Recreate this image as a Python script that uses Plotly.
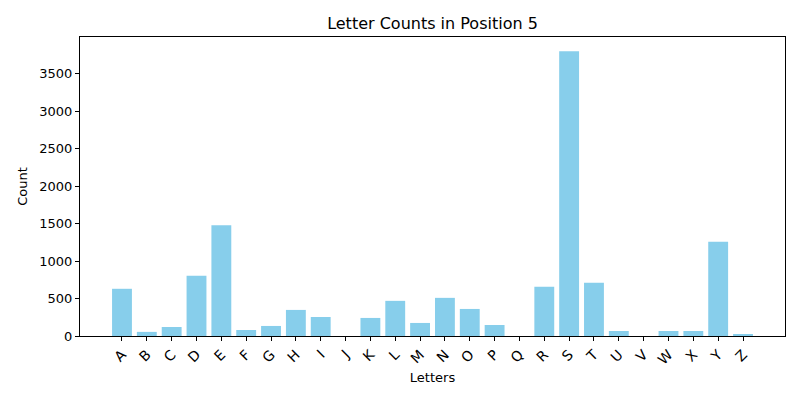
import plotly.graph_objects as go

letters = list("ABCDEFGHIJKLMNOPQRSTUVWXYZ")
counts = [630, 55, 120, 803, 1477, 80, 134, 348, 254, 0, 241, 469, 174,
          509, 361, 147, 0, 656, 3800, 710, 67, 0, 67, 67, 1259, 27]

fig = go.Figure(go.Bar(x=letters, y=counts, marker_color="skyblue",
                       marker_line_width=0, width=0.8))

fig.update_layout(
    # centred over the plot area, not the whole page
    title=dict(text="Letter Counts in Position 5", xref="paper", x=0.5,
               xanchor="center", y=0.942, yanchor="middle",
               font=dict(size=16, color="black")),
    width=800, height=400,
    margin=dict(l=80, r=15, t=37, b=64),
    plot_bgcolor="white", paper_bgcolor="white",
    font=dict(family="DejaVu Sans", size=13, color="black"),
    showlegend=False,
)
fig.update_xaxes(
    title=dict(text="Letters", standoff=6, font=dict(size=13)),
    range=[-1.69, 26.69], tickangle=-45, automargin=False,
    tickfont=dict(size=14),
    showline=True, mirror=True, linecolor="black", linewidth=1,
    ticks="outside", ticklen=4, tickcolor="black", showgrid=False,
)
fig.update_yaxes(
    title=dict(text="Count", standoff=8, font=dict(size=13)),
    range=[0, 3990], dtick=500, automargin=False,
    showline=True, mirror=True, linecolor="black", linewidth=1,
    ticks="outside", ticklen=4, tickcolor="black", showgrid=False, zeroline=False,
)

# drop the browser's default 8px body margin so the figure sits at 0,0
fig.write_html("out.html", config={"displayModeBar": False},
               post_script="document.body.style.margin='0';")
